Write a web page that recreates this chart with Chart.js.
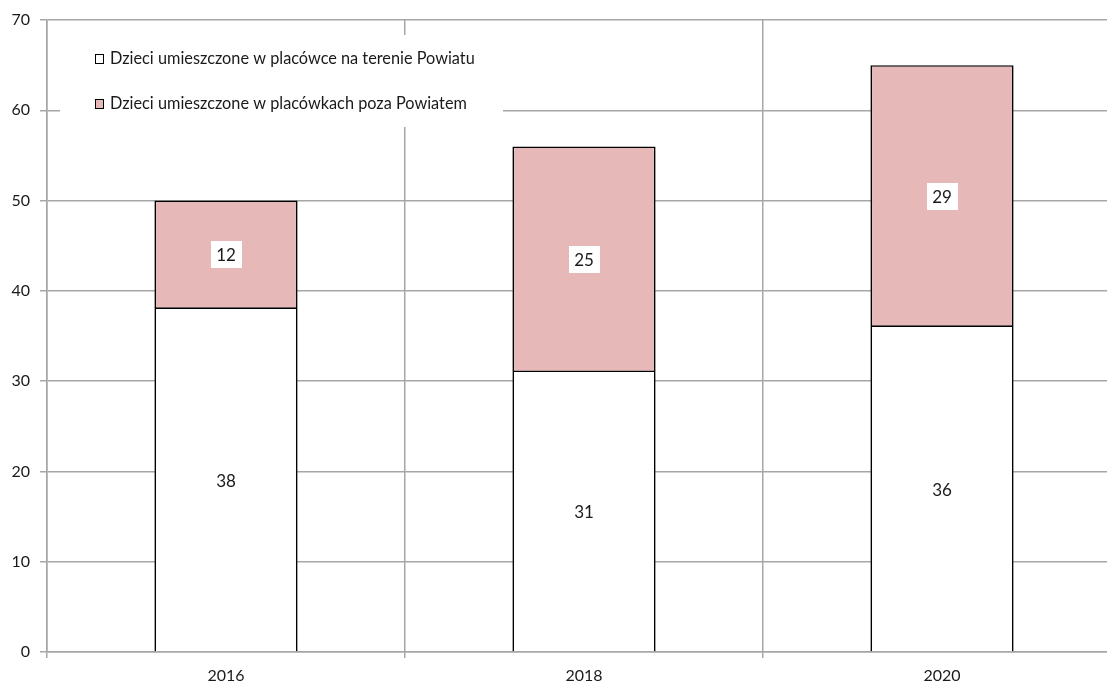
<!DOCTYPE html>
<html>
<head>
<meta charset="utf-8">
<script src="https://cdn.jsdelivr.net/npm/chart.js@4"></script>
<style>
  html, body { margin: 0; padding: 0; background: #fff; overflow: hidden; }
  #wrap { width: 1121px; height: 681px; position: relative; }
</style>
</head>
<body>
<div id="wrap"><canvas id="chart"></canvas></div>
<script>
const years = ["2016", "2018", "2020"];
const insideCounts = [38, 31, 36];
const outsideCounts = [12, 25, 29];
const seriesNames = [
  "Dzieci umieszczone w placówce na terenie Powiatu",
  "Dzieci umieszczone w placówkach poza Powiatem"
];

const FONT = "Lato, 'Open Sans', sans-serif";
const GRID = "#a6a6a6";

// legend drawn inside the plot, on a white box that hides the grid
const boxLegend = {
  id: "boxLegend",
  beforeDatasetsDraw(chart) {
    const ctx = chart.ctx;
    ctx.save();
    ctx.fillStyle = "#fff";
    ctx.fillRect(60, 35, 443, 92);
    ctx.font = "16.3px " + FONT;
    ctx.textBaseline = "middle";
    chart.data.datasets.forEach((ds, i) => {
      const y = i === 0 ? 59 : 104;
      ctx.fillStyle = ds.backgroundColor;
      ctx.fillRect(95.5, y - 4.5, 8, 9);
      ctx.strokeStyle = "#000";
      ctx.lineWidth = 1;
      ctx.strokeRect(95.5, y - 4.5, 8, 9);
      ctx.fillStyle = "#1a1a1a";
      ctx.fillText(ds.label, 110, y);
    });
    ctx.restore();
  }
};

// value labels in the middle of each segment
const segLabels = {
  id: "segLabels",
  afterDatasetsDraw(chart) {
    const ctx = chart.ctx;
    ctx.save();
    ctx.font = "17px " + FONT;
    ctx.textAlign = "center";
    ctx.textBaseline = "middle";
    chart.data.datasets.forEach((ds, di) => {
      chart.getDatasetMeta(di).data.forEach((bar, i) => {
        const y = (bar.y + bar.base) / 2;
        const txt = String(ds.data[i]);
        if (di === 1) {
          const w = ctx.measureText(txt).width + 11;
          ctx.fillStyle = "#fff";
          ctx.fillRect(Math.round(bar.x - w / 2), Math.round(y - 13.5), Math.round(w), 27);
        }
        ctx.fillStyle = "#1a1a1a";
        ctx.fillText(txt, bar.x, y + 1);
      });
    });
    ctx.restore();
  }
};

new Chart(document.getElementById("chart"), {
  type: "bar",
  data: {
    labels: years,
    datasets: [
      {
        label: seriesNames[0],
        data: insideCounts,
        backgroundColor: "#ffffff",
        borderColor: "#000",
        borderWidth: { left: 1.7, right: 1.7, top: 0, bottom: 0 },
        borderSkipped: false
      },
      {
        label: seriesNames[1],
        data: outsideCounts,
        backgroundColor: "#e6b8b7",
        borderColor: "#000",
        borderWidth: 1.7,
        borderSkipped: false
      }
    ]
  },
  options: {
    responsive: true,
    maintainAspectRatio: false,
    animation: false,
    layout: { padding: { top: 20, right: 0, left: 0, bottom: 0 } },
    datasets: { bar: { categoryPercentage: 1, barPercentage: 0.4 } },
    plugins: { legend: { display: false }, tooltip: { enabled: false } },
    scales: {
      x: {
        stacked: true,
        afterFit(s) { s.height = 29; },
        grid: { offset: true, color: GRID, lineWidth: 1.5, tickLength: 6 },
        border: { color: GRID, width: 1.5 },
        ticks: { color: "#1a1a1a", font: { family: FONT, size: 16 }, padding: 8 }
      },
      y: {
        stacked: true,
        min: 0,
        max: 70,
        afterFit(s) { s.width = 47; },
        grid: { color: GRID, lineWidth: 1.5, tickLength: 7 },
        border: { color: GRID, width: 1.5 },
        ticks: { stepSize: 10, color: "#1a1a1a", font: { family: FONT, size: 16 }, padding: 10 }
      }
    }
  },
  plugins: [boxLegend, segLabels]
});
</script>
</body>
</html>
